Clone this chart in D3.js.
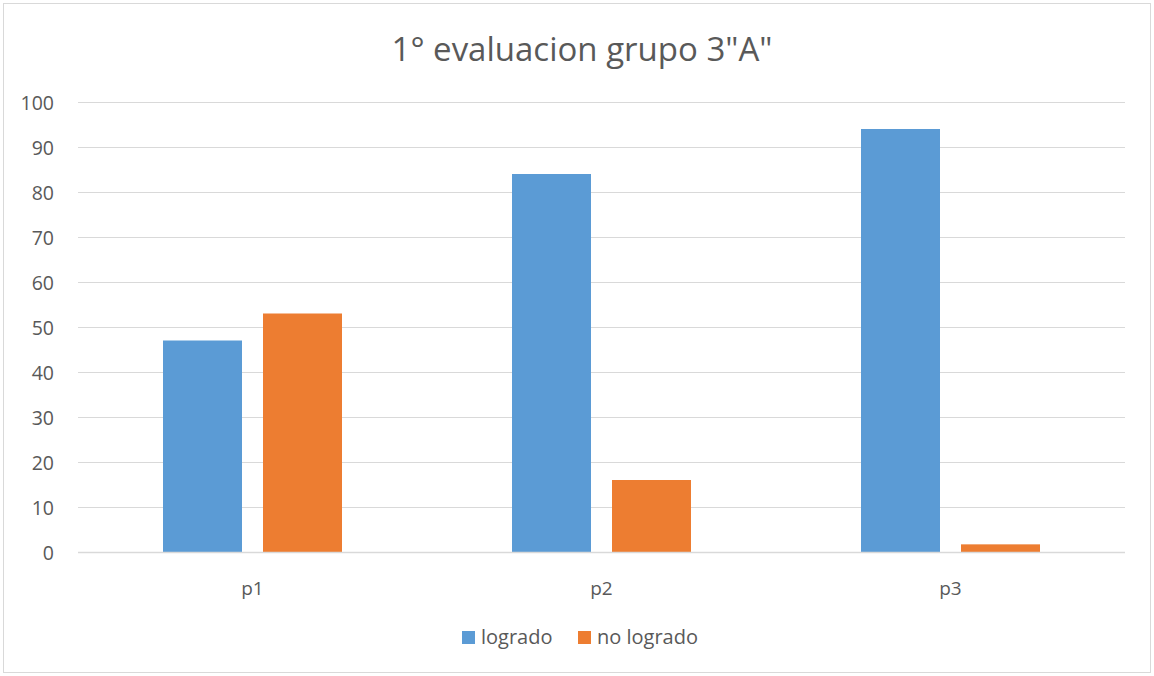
<!DOCTYPE html>
<html><head><meta charset="utf-8">
<script src="https://cdn.jsdelivr.net/npm/d3@7"></script>
<style>body{margin:0;background:#fff;} svg{display:block;}</style>
</head><body>
<script>
const categories = ["p1", "p2", "p3"];
const seriesNames = ["logrado", "no logrado"];
const logrado = [47, 84, 94];
const noLogrado = [53, 16, 1.7];
const yTicks = [0, 10, 20, 30, 40, 50, 60, 70, 80, 90, 100];
const colors = ["#5B9BD5", "#ED7D31"];
const title = '1° evaluacion grupo 3"A"';

(function () {
const W = 1154, H = 676;
const svg = d3.select("body").append("svg").attr("width", W).attr("height", H);
const font = "'Open Sans', sans-serif";
const textColor = "#595959";

svg.append("rect").attr("x", 3.5).attr("y", 3.5).attr("width", W - 7).attr("height", H - 7)
  .attr("fill", "#fff").attr("stroke", "#d9d9d9").attr("stroke-width", 1);

const pL = 78, pR = 1125, pT = 102, pB = 552;
const y = d3.scaleLinear().domain([0, 100]).range([pB, pT]);
const x0 = d3.scaleBand().domain(categories).range([pL, pR]).padding(0);
const groupW = 179;
const x1 = d3.scaleBand().domain(seriesNames).range([0, groupW]).paddingInner(0.21).paddingOuter(0);

svg.append("g").selectAll("line").data(yTicks.filter(d => d > 0)).join("line")
  .attr("x1", pL).attr("x2", pR)
  .attr("y1", d => Math.round(y(d)) + 0.5).attr("y2", d => Math.round(y(d)) + 0.5)
  .attr("stroke", "#d9d9d9").attr("stroke-width", 1);

const yAxis = d3.axisLeft(y).tickValues(yTicks).tickSize(0).tickPadding(0);
const gy = svg.append("g").attr("transform", `translate(54,0)`).call(yAxis);
gy.select(".domain").remove();
gy.selectAll("text").attr("font-family", font).attr("font-size", 19.5).attr("fill", textColor).attr("dy", "0.36em");

const data = categories.map((c, i) => ({cat: c, vals: [logrado[i], noLogrado[i]]}));
const groups = svg.append("g").selectAll("g").data(data).join("g")
  .attr("transform", d => `translate(${x0(d.cat) + (x0.bandwidth() - groupW) / 2},0)`);
groups.selectAll("rect").data(d => d.vals.map((v, j) => ({s: seriesNames[j], v, j}))).join("rect")
  .attr("x", d => x1(d.s)).attr("width", x1.bandwidth())
  .attr("y", d => y(d.v)).attr("height", d => y(0) - y(d.v))
  .attr("fill", d => colors[d.j]);

svg.append("line").attr("x1", pL).attr("x2", pR).attr("y1", pB + 0.5).attr("y2", pB + 0.5)
  .attr("stroke", "#d9d9d9").attr("stroke-width", 1.5);

const xAxis = d3.axisBottom(x0).tickSize(0).tickPadding(0);
const gx = svg.append("g").attr("transform", `translate(0,${pB + 43})`).call(xAxis);
gx.select(".domain").remove();
gx.selectAll("text").attr("font-family", font).attr("font-size", 19).attr("fill", textColor).attr("dy", "0");

svg.append("text").attr("x", 582).attr("y", 61).attr("text-anchor", "middle")
  .attr("font-family", font).attr("font-size", 33).attr("fill", textColor).text(title);

const legendX = [462, 578];
const lg = svg.append("g").selectAll("g").data(seriesNames).join("g")
  .attr("transform", (d, i) => `translate(${legendX[i]},631)`);
lg.append("rect").attr("width", 13).attr("height", 13).attr("fill", (d, i) => colors[i]);
lg.append("text").attr("x", 19).attr("y", 13).attr("font-family", font).attr("font-size", 20)
  .attr("fill", textColor).text(d => d);
})();
</script>
</body></html>
